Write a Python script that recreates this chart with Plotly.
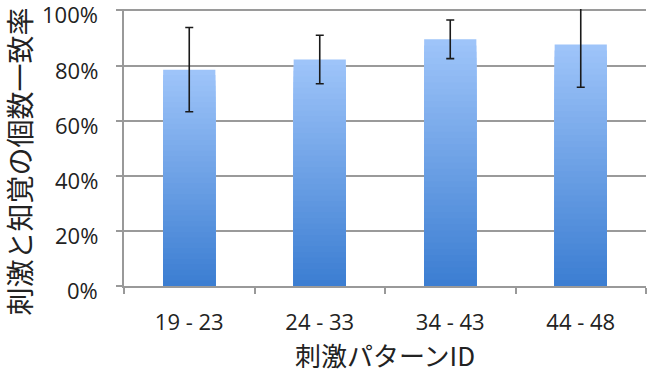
import plotly.graph_objects as go

categories = ["19 - 23", "24 - 33", "34 - 43", "44 - 48"]
values = [0.785, 0.822, 0.895, 0.876]
errors = [0.153, 0.088, 0.070, 0.155]
y_ticks = [0, 0.2, 0.4, 0.6, 0.8, 1.0]
y_tick_labels = ["0%", "20%", "40%", "60%", "80%", "100%"]
x_title = "刺激パターンID"
y_title = "刺激と知覚の個数一致率"

top_rgb = (158, 196, 249)
bot_rgb = (60, 126, 210)
N = 40

fig = go.Figure()
for k in range(N, 0, -1):
    t = (k - 1) / (N - 1)
    c = tuple(round(bot_rgb[i] + (top_rgb[i] - bot_rgb[i]) * t) for i in range(3))
    fig.add_trace(go.Bar(
        x=categories, y=[v * k / N for v in values],
        marker=dict(color="rgb(%d,%d,%d)" % c, line=dict(width=0)),
        width=0.4, showlegend=False, hoverinfo="skip",
    ))
fig.add_trace(go.Bar(
    x=categories, y=values, width=0.4,
    marker=dict(color="rgba(0,0,0,0)", line=dict(width=0)),
    error_y=dict(type="data", array=errors, visible=True, color="#1a1a1a",
                 thickness=1.6, width=4),
    showlegend=False, hoverinfo="skip",
))

# y tick labels placed on the y scale
for v, lab in zip(y_ticks, y_tick_labels):
    fig.add_annotation(
        x=0, xref="paper", y=v, yref="y", text=lab, showarrow=False,
        xanchor="right", yanchor="middle", xshift=-25, yshift=-4,
        borderpad=0,
        font=dict(family="Open Sans", size=22, color="#222"),
    )

# y axis title
fig.add_annotation(
    x=0, xref="paper", y=0.5, yref="paper", text=y_title, showarrow=False,
    textangle=-90, xanchor="center", yanchor="middle", xshift=-106, yshift=-14,
    font=dict(family="Noto Sans CJK JP", size=28, color="#222"),
)

fig.update_layout(
    width=656, height=373, barmode="overlay",
    margin=dict(l=124, r=10, t=9, b=87),
    plot_bgcolor="white", paper_bgcolor="white",
    font=dict(family="Open Sans", size=22, color="#222"),
    xaxis=dict(
        tickson="boundaries", ticks="outside", ticklen=6, tickcolor="#999",
        tickwidth=1.5, showgrid=False, showline=True, linecolor="#999",
        linewidth=1.5, ticklabelposition="outside", ticklabelstandoff=16,
        automargin=False,
        title=dict(text=x_title, standoff=16,
                   font=dict(family="Noto Sans CJK JP", size=26)),
    ),
    yaxis=dict(
        range=[0, 1.005], tickvals=y_ticks, showticklabels=False,
        ticks="outside", ticklen=6, tickcolor="#999", tickwidth=1.5,
        showgrid=True, gridcolor="#9a9a9a", gridwidth=1.5,
        showline=True, linecolor="#999", linewidth=1.5,
        zeroline=False, automargin=False,
    ),
)

fig.write_html("out.html")
